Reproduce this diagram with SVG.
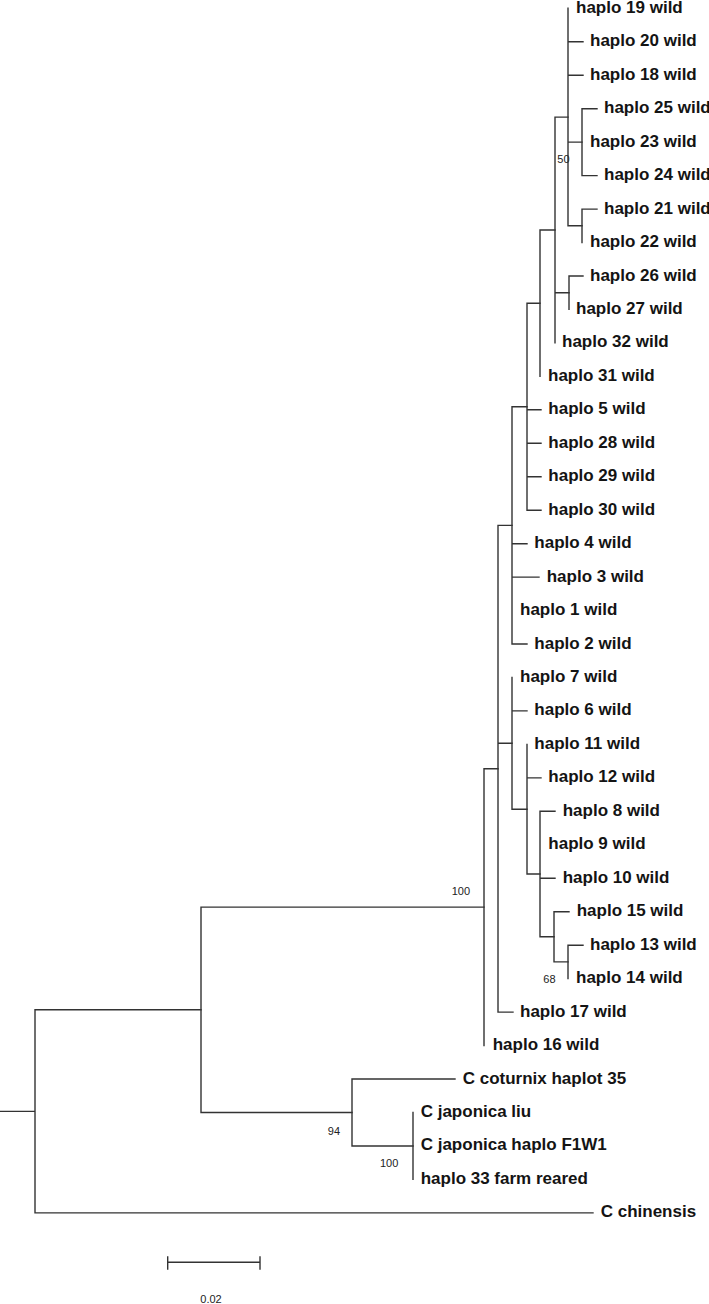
<svg xmlns="http://www.w3.org/2000/svg" width="709" height="1304" viewBox="0 0 709 1304">
<style>
.lb{font-family:"Liberation Sans",Arial,sans-serif;font-weight:bold;font-size:17px;fill:#141414}
.bs{font-family:"Liberation Sans",Arial,sans-serif;font-size:11px;fill:#222}
.br{stroke:#333;stroke-width:1.4;fill:none;stroke-linecap:square}
</style>
<rect width="709" height="1304" fill="#fff"/>
<g id="connectors" class="br">
<!-- node A: 25,23,24 -->
<path d="M582 108.7V175.6 M582 108.7H597 M582 175.6H597"/>
<!-- node B: 21,22 -->
<path d="M582 209.1V242.5 M582 209.1H597"/>
<!-- node C -->
<path d="M568 8.3V225.8 M568 41.8H583 M568 75.2H583 M568 142.1H582 M568 225.8H582"/>
<!-- node D: 26,27 -->
<path d="M569 276V309.4 M569 276H583"/>
<!-- node E -->
<path d="M555 117.1V342.9 M555 117.1H568 M555 292.7H569"/>
<!-- node F -->
<path d="M540 230V376.4 M540 230H555"/>
<!-- node G -->
<path d="M527 303.2V510.2 M527 303.2H540 M527 409.8H541 M527 443.3H541 M527 476.7H541 M527 510.2H541"/>
<!-- node H -->
<path d="M512 406.7V644 M512 406.7H527 M512 543.7H527 M512 577.1H539 M512 644H527"/>
<!-- node J: 13,14 -->
<path d="M568 945.2V978.6 M568 945.2H583"/>
<!-- node K -->
<path d="M554 911.7V961.9 M554 911.7H569 M554 961.9H568"/>
<!-- node L -->
<path d="M540 811.3V936.8 M540 811.3H555 M540 878.2H555 M540 936.8H554"/>
<!-- node M -->
<path d="M527 744.4V874 M527 777.9H541 M527 874H540"/>
<!-- node N -->
<path d="M512 677.5V809.2 M512 710.9H527 M512 809.2H527"/>
<!-- node I -->
<path d="M498 525.4V1012.1 M498 525.4H512 M498 743.3H512 M498 1012.1H513"/>
<!-- node O -->
<path d="M484 768.7V1045.5 M484 768.7H498"/>
<!-- node Q -->
<path d="M413 1112.5V1179.4"/>
<!-- node P -->
<path d="M352 1079V1146 M352 1079H455 M352 1146H413"/>
<!-- node R -->
<path d="M201 907.1V1112.5 M201 907.1H484 M201 1112.5H352"/>
<!-- root -->
<path d="M35 1009.8V1212.9 M35 1009.8H201 M35 1212.9H593 M0 1111.4H35"/>
</g>
<g id="leaves">
<g id="h19"><text class="lb" x="576" y="12.8">haplo 19 wild</text></g>
<g id="h20"><text class="lb" x="590" y="46.3">haplo 20 wild</text></g>
<g id="h18"><text class="lb" x="590" y="79.7">haplo 18 wild</text></g>
<g id="h25"><text class="lb" x="604" y="113.2">haplo 25 wild</text></g>
<g id="h23"><text class="lb" x="590" y="146.6">haplo 23 wild</text></g>
<g id="h24"><text class="lb" x="604" y="180.1">haplo 24 wild</text></g>
<g id="h21"><text class="lb" x="604" y="213.6">haplo 21 wild</text></g>
<g id="h22"><text class="lb" x="590" y="247">haplo 22 wild</text></g>
<g id="h26"><text class="lb" x="590" y="280.5">haplo 26 wild</text></g>
<g id="h27"><text class="lb" x="576" y="313.9">haplo 27 wild</text></g>
<g id="h32"><text class="lb" x="562" y="347.4">haplo 32 wild</text></g>
<g id="h31"><text class="lb" x="548" y="380.9">haplo 31 wild</text></g>
<g id="h5"><text class="lb" x="548.3" y="414.3">haplo 5 wild</text></g>
<g id="h28"><text class="lb" x="548.3" y="447.8">haplo 28 wild</text></g>
<g id="h29"><text class="lb" x="548.3" y="481.2">haplo 29 wild</text></g>
<g id="h30"><text class="lb" x="548.3" y="514.7">haplo 30 wild</text></g>
<g id="h4"><text class="lb" x="534.3" y="548.2">haplo 4 wild</text></g>
<g id="h3"><text class="lb" x="546.7" y="581.6">haplo 3 wild</text></g>
<g id="h1"><text class="lb" x="520" y="615.1">haplo 1 wild</text></g>
<g id="h2"><text class="lb" x="534.3" y="648.5">haplo 2 wild</text></g>
<g id="h7"><text class="lb" x="520" y="682">haplo 7 wild</text></g>
<g id="h6"><text class="lb" x="534.3" y="715.4">haplo 6 wild</text></g>
<g id="h11"><text class="lb" x="534.3" y="748.9">haplo 11 wild</text></g>
<g id="h12"><text class="lb" x="548.3" y="782.4">haplo 12 wild</text></g>
<g id="h8"><text class="lb" x="562.7" y="815.8">haplo 8 wild</text></g>
<g id="h9"><text class="lb" x="548.3" y="849.3">haplo 9 wild</text></g>
<g id="h10"><text class="lb" x="562.7" y="882.7">haplo 10 wild</text></g>
<g id="h15"><text class="lb" x="576.7" y="916.2">haplo 15 wild</text></g>
<g id="h13"><text class="lb" x="590" y="949.7">haplo 13 wild</text></g>
<g id="h14"><text class="lb" x="576" y="983.1">haplo 14 wild</text></g>
<g id="h17"><text class="lb" x="520" y="1016.6">haplo 17 wild</text></g>
<g id="h16"><text class="lb" x="492.7" y="1050">haplo 16 wild</text></g>
<g id="coturnix"><text class="lb" x="462.7" y="1083.5">C coturnix haplot 35</text></g>
<g id="jap_liu"><text class="lb" x="420.7" y="1117">C japonica liu</text></g>
<g id="jap_f1w1"><text class="lb" x="420.7" y="1150.4">C japonica haplo F1W1</text></g>
<g id="h33"><text class="lb" x="420.7" y="1183.9">haplo 33 farm reared</text></g>
<g id="chinensis"><text class="lb" x="600.7" y="1217.4">C chinensis</text></g>
</g>
<g id="bootstrap">
<text class="bs" x="557.3" y="163">50</text>
<text class="bs" x="543.3" y="983">68</text>
<text class="bs" x="451.7" y="895">100</text>
<text class="bs" x="327.8" y="1135">94</text>
<text class="bs" x="380" y="1167">100</text>
</g>
<g id="scalebar">
<path class="br" d="M167.7 1262.3H260 M167.7 1257V1269 M260 1257V1269"/>
<text class="bs" x="211" y="1303" text-anchor="middle" font-size="10.5">0.02</text>
</g>
</svg>
